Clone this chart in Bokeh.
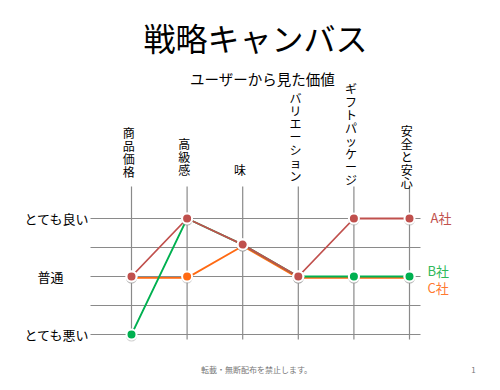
from bokeh.plotting import figure
from bokeh.models import Range1d, ColumnDataSource
from bokeh.core.properties import value
from bokeh.transform import dodge
from bokeh.embed import file_html
from bokeh.resources import INLINE

# ---- data ----
categories = ["商品価格", "高級感", "味", "バリエーション", "ギフトパッケージ", "安全と安心"]
level_labels = ["とても良い", "普通", "とても悪い"]
level_values = [1, 0, -1]
series_names = ["A社", "B社", "C社"]
a_values = [0, 1, 0.55, 0, 1, 1]
b_values = [-1, 1, 0.55, 0, 0, 0]
c_values = [0, 0, 0.55, 0, 0, 0]

# ---- styling / layout ----
FONT = "Noto Sans CJK JP"
colors = {"A社": "#C0504D", "B社": "#00B050", "C社": "#FF6A13"}
label_colors = {"A社": "#C0504D", "B社": "#2FB85A", "C社": "#FF7A2F"}
line_px_offset = {"A社": 0.0, "B社": 0.0, "C社": -1.4}

W, H = 484, 374
PX_X = 55.6   # pixels per category
PX_Y = 58.0   # pixels per level unit
def dx(px):
    return (px - 131) / PX_X
def dy(py):
    return (276 - py) / PX_Y

p = figure(width=W, height=H, output_backend="svg", toolbar_location=None,
           x_range=Range1d(dx(0), dx(W)), y_range=Range1d(dy(H), dy(0)),
           x_axis_location=None, y_axis_location=None, min_border=0,
           outline_line_color=None, background_fill_color="white")
p.xgrid.visible = False
p.ygrid.visible = False

n = len(categories)
xs = list(range(n))

# grid: horizontal lines at levels and half-levels
hy = [1, 0.5, 0, -0.5, -1]
p.segment(x0=[dx(90)] * len(hy), x1=[dx(420)] * len(hy), y0=hy, y1=hy,
          line_color="#8a8a8a", line_width=1.2)
# vertical lines at categories
p.segment(x0=xs, x1=xs, y0=[dy(186)] * n, y1=[dy(339)] * n,
          line_color="#8a8a8a", line_width=1.2)

# title + subtitle
p.text(x=[dx(255)], y=[dy(36)], text=["戦略キャンバス"], text_font=value(FONT),
       text_font_size="32px", text_align="center", text_baseline="middle",
       text_color="black")
p.text(x=[dx(262)], y=[dy(78)], text=["ユーザーから見た価値"], text_font=value(FONT),
       text_font_size="14.5px", text_align="center", text_baseline="middle",
       text_color="black")

# vertical category labels, one character per row
last_char_center_px = [171, 169, 169, 175, 179, 182]
STEP = 13.0
cx, cy, ct = [], [], []
for i, cat in enumerate(categories):
    m = len(cat)
    for j, ch in enumerate(cat):
        cx.append(i - 0.05)
        cy.append(dy(last_char_center_px[i] - (m - 1 - j) * STEP))
        ct.append(ch)
p.text(x=cx, y=cy, text=ct, text_font=value(FONT), text_font_size="12px",
       text_align="center", text_baseline="middle", text_color="black")

# level labels
p.text(x=[dx(89), dx(50), dx(89)], y=level_values, text=level_labels,
       text_font=value(FONT), text_font_size="13px",
       text_align=["right", "center", "right"], text_baseline="middle",
       text_color="black")

# series
series = [("C社", c_values), ("B社", b_values), ("A社", a_values)]
for name, vals in series:
    src = ColumnDataSource(dict(x=xs, y=vals))
    p.line("x", dodge("y", line_px_offset[name] / PX_Y), source=src,
           line_color=colors[name], line_width=1.8)
for name, vals in series:
    src = ColumnDataSource(dict(x=xs, y=vals))
    # soft shadow
    p.scatter("x", dodge("y", -1.5 / PX_Y), source=src, marker="circle", size=11,
              fill_color="#9a9a9a", fill_alpha=0.45, line_color=None)
    p.scatter("x", "y", source=src, marker="circle", size=10,
              fill_color=colors[name], line_color="white", line_width=2)

# series labels
p.text(x=[dx(430), dx(427), dx(427)], y=[dy(217), dy(270), dy(287)],
       text=series_names, text_font=value(FONT), text_font_size="13px",
       text_align="left", text_baseline="middle",
       text_color=[label_colors[s] for s in series_names])

# footer
p.text(x=[dx(256)], y=[dy(369)], text=["転載・無断配布を禁止します。"],
       text_font=value(FONT), text_font_size="8px", text_align="center",
       text_baseline="middle", text_color="#777777")
p.text(x=[dx(473)], y=[dy(369)], text=["1"], text_font=value(FONT),
       text_font_size="8px", text_align="center", text_baseline="middle",
       text_color="#777777")

open("out.html", "w").write(file_html(p, INLINE))
